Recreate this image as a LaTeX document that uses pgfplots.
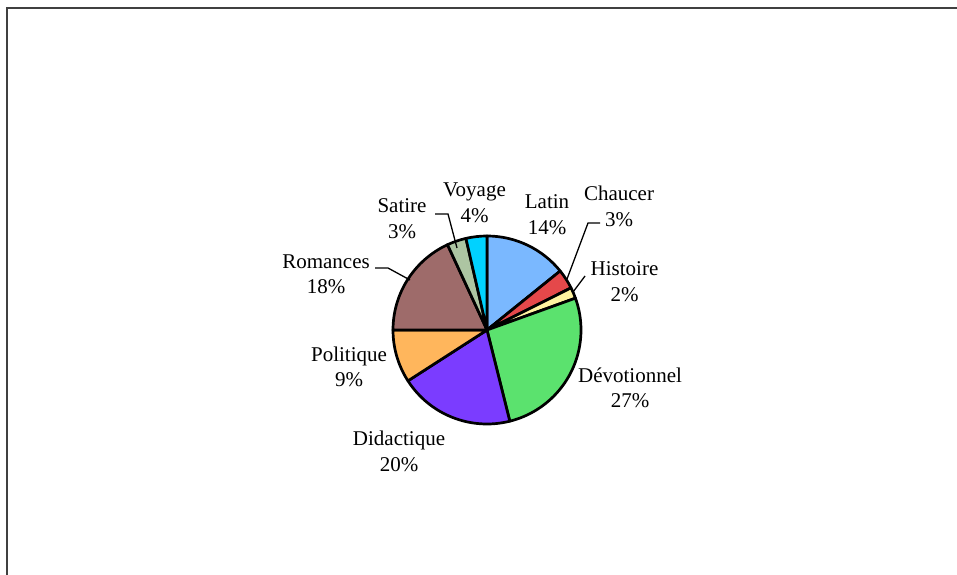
\documentclass[border=0pt]{standalone}
\usepackage{pgfplots}
\pgfplotsset{compat=1.18}
\usepackage{pgfplotstable}
\usepackage{fontspec}
\setmainfont{Liberation Serif}

\definecolor{cLatin}{HTML}{7AB8FF}
\definecolor{cChaucer}{HTML}{E5484A}
\definecolor{cHistoire}{HTML}{FFF3A0}
\definecolor{cDevot}{HTML}{5BE26E}
\definecolor{cDidact}{HTML}{7B3CFF}
\definecolor{cPolit}{HTML}{FFB65C}
\definecolor{cRomances}{HTML}{9E6B6A}
\definecolor{cSatire}{HTML}{ADC5A2}
\definecolor{cVoyage}{HTML}{00D2FF}

% share of each category (percent), clockwise from 12 o'clock
\pgfplotstableread[col sep=comma]{
name,value,color
Latin,14.2,cLatin
Chaucer,3.4,cChaucer
Histoire,1.9,cHistoire
Dévotionnel,26.6,cDevot
Didactique,19.8,cDidact
Politique,9.1,cPolit
Romances,18.1,cRomances
Satire,3.3,cSatire
Voyage,3.6,cVoyage
}\piedata

\begin{document}
\begin{tikzpicture}
\useasboundingbox (0,0) rectangle (957bp,575bp);
\begin{axis}[
  at={(0,0)}, anchor=south west,
  scale only axis, width=957bp, height=575bp,
  xmin=0, xmax=957, ymin=0, ymax=575,
  hide axis, clip=false,
]
\def\cum{0}
\pgfplotsforeachungrouped \i in {0,...,8}{%
  \pgfplotstablegetelem{\i}{value}\of\piedata \let\sval\pgfplotsretval
  \pgfplotstablegetelem{\i}{color}\of\piedata \let\scol\pgfplotsretval
  \pgfmathsetmacro\sa{90-3.6*\cum}%
  \pgfmathsetmacro\sb{90-3.6*(\cum+\sval)}%
  \edef\temp{\noexpand\filldraw[fill=\scol, draw=black, line width=2.7bp, line join=round]
    (axis cs:487,245) -- ++(\sa:94bp) arc[start angle=\sa, end angle=\sb, radius=94bp] -- cycle;}%
  \temp
  \pgfmathsetmacro\cum{\cum+\sval}%
  \xdef\cum{\cum}%
}
% frame
\draw[line width=1.5bp, color=black!75] (axis cs:7,0) -- (axis cs:7,567) -- (axis cs:957,567);
% leader lines
\draw[line width=1.3bp] (axis cs:567,296) -- (axis cs:588,352) -- (axis cs:600,352);
\draw[line width=1.3bp] (axis cs:573,283) -- (axis cs:585,299);
\draw[line width=1.3bp] (axis cs:375,307) -- (axis cs:388,307) -- (axis cs:410,295);
\draw[line width=1.3bp] (axis cs:435,361) -- (axis cs:448,361) -- (axis cs:457,327);
% labels
\tikzset{lab/.style={anchor=base, inner sep=0pt, font=\fontsize{21bp}{24bp}\selectfont}}
\node[lab] at (axis cs:547,366) {Latin};
\node[lab] at (axis cs:547,340) {14\%};
\node[lab] at (axis cs:619,374) {Chaucer};
\node[lab] at (axis cs:619,348) {3\%};
\node[lab] at (axis cs:624.5,299) {Histoire};
\node[lab] at (axis cs:624.5,273) {2\%};
\node[lab] at (axis cs:630,192) {Dévotionnel};
\node[lab] at (axis cs:630,167) {27\%};
\node[lab] at (axis cs:399,129) {Didactique};
\node[lab] at (axis cs:399,103) {20\%};
\node[lab] at (axis cs:349,213) {Politique};
\node[lab] at (axis cs:349,188) {9\%};
\node[lab] at (axis cs:326,306) {Romances};
\node[lab] at (axis cs:326,281) {18\%};
\node[lab] at (axis cs:402,362) {Satire};
\node[lab] at (axis cs:402,336) {3\%};
\node[lab] at (axis cs:474.5,378) {Voyage};
\node[lab] at (axis cs:474.5,352) {4\%};
\end{axis}
\end{tikzpicture}
\end{document}
